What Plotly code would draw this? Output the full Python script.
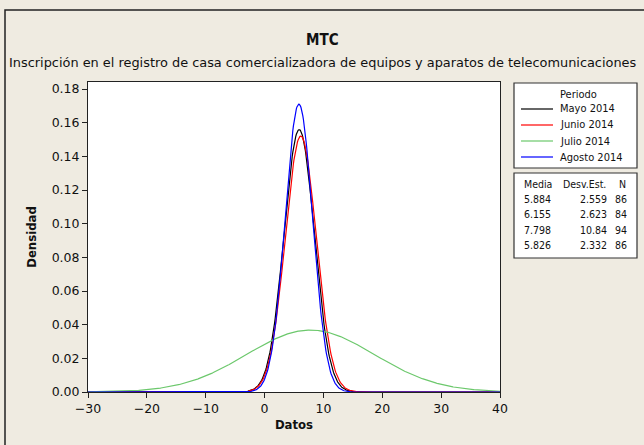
import numpy as np
import plotly.graph_objects as go

# ---- data (from the reference's table) ----
periodos = ["Mayo 2014", "Junio 2014", "Julio 2014", "Agosto 2014"]
medias = [5.884, 6.155, 7.798, 5.826]
desv = [2.559, 2.623, 10.84, 2.332]
ns = [86, 84, 94, 86]
colores = ["#000000", "#FF0000", "#6CC86C", "#0000FF"]

x_ticks = [-30, -20, -10, 0, 10, 20, 30, 40]
y_ticks = [0.00, 0.02, 0.04, 0.06, 0.08, 0.10, 0.12, 0.14, 0.16, 0.18]

FONT = "DejaVu Sans, sans-serif"
FONTC = "DejaVu Sans Condensed, DejaVu Sans, sans-serif"
BG = "#EFEBE1"

W, H = 644, 445
L, R, T, B = 88, 500, 82, 392  # plot area in pixels


def px(x):
    return (x - L) / (R - L)


def py(y):
    return (B - y) / (B - T)


fig = go.Figure()
xs = np.linspace(-30, 40, 701)
for name, m, s, c in zip(periodos, medias, desv, colores):
    dens = np.exp(-0.5 * ((xs - m) / s) ** 2) / (s * np.sqrt(2 * np.pi))
    fig.add_trace(go.Scatter(x=xs, y=dens, mode="lines", name=name,
                             line=dict(color=c, width=1.2), showlegend=False))

shapes = []
annots = []
# outer border
shapes.append(dict(type="rect", xref="paper", yref="paper",
                   x0=px(5), x1=px(660), y0=py(10), y1=py(460),
                   line=dict(color="#222222", width=1.5)))
# legend box
shapes.append(dict(type="rect", xref="paper", yref="paper",
                   x0=px(514), x1=px(637), y0=py(83), y1=py(168),
                   line=dict(color="#333333", width=1.2), fillcolor="white", layer="below"))
annots.append(dict(text="Periodo", x=px(578), y=py(94), xref="paper", yref="paper",
                   showarrow=False, xanchor="center", yanchor="middle",
                   font=dict(size=11, color="#111111", family=FONTC)))
ys_leg = [109, 125, 141, 157]
for name, c, yy in zip(periodos, colores, ys_leg):
    shapes.append(dict(type="line", xref="paper", yref="paper",
                       x0=px(521), x1=px(553), y0=py(yy), y1=py(yy),
                       line=dict(color=c, width=1.2)))
    annots.append(dict(text=name, x=px(558), y=py(yy), xref="paper", yref="paper",
                       showarrow=False, xanchor="left", yanchor="middle",
                       font=dict(size=11, color="#111111", family=FONTC)))
# stats table
shapes.append(dict(type="rect", xref="paper", yref="paper",
                   x0=px(514), x1=px(637), y0=py(173), y1=py(258),
                   line=dict(color="#333333", width=1.2), fillcolor="white", layer="below"))
hdr_y = 184
annots.append(dict(text="Media", x=px(538), y=py(hdr_y), xref="paper", yref="paper",
                   showarrow=False, xanchor="center", yanchor="middle",
                   font=dict(size=10.5, color="#111111", family=FONTC)))
annots.append(dict(text="Desv.Est.", x=px(608), y=py(hdr_y), xref="paper", yref="paper",
                   showarrow=False, xanchor="right", yanchor="middle",
                   font=dict(size=10.5, color="#111111", family=FONTC)))
annots.append(dict(text="N", x=px(628), y=py(hdr_y), xref="paper", yref="paper",
                   showarrow=False, xanchor="right", yanchor="middle",
                   font=dict(size=10.5, color="#111111", family=FONTC)))
rows_y = [199, 214, 230, 245]
for m, s, n, yy in zip(medias, desv, ns, rows_y):
    for txt, xx in ((f"{m:.3f}", 553), (f"{s:.4g}", 609), (str(n), 629)):
        annots.append(dict(text=txt, x=px(xx), y=py(yy), xref="paper", yref="paper",
                           showarrow=False, xanchor="right", yanchor="middle",
                           font=dict(size=10.5, color="#111111", family=FONTC)))

# titles
annots.append(dict(text="<b>MTC</b>", x=px(322), y=py(40), xref="paper", yref="paper",
                   showarrow=False, xanchor="center", yanchor="middle",
                   font=dict(size=15, color="#111111", family=FONTC)))
annots.append(dict(text="Inscripción en el registro de casa comercializadora de equipos y aparatos de telecomunicaciones",
                   x=px(323), y=py(62), xref="paper", yref="paper",
                   showarrow=False, xanchor="center", yanchor="middle",
                   font=dict(size=12.9, color="#111111", family=FONT)))

fig.update_layout(
    width=W, height=H,
    margin=dict(l=L, r=W - R, t=T, b=H - B, pad=0),
    paper_bgcolor=BG, plot_bgcolor="white",
    font=dict(family=FONT, size=12, color="#111111"),
    shapes=shapes, annotations=annots,
    showlegend=False,
)
fig.update_xaxes(range=[-30, 40], tickvals=x_ticks, ticks="outside", ticklen=5,
                 tickcolor="#222222", showline=True, linecolor="#222222", linewidth=1,
                 mirror=True, showgrid=False, zeroline=False,
                 title=dict(text="<b>Datos</b>", font=dict(size=13, family=FONTC), standoff=4),
                 tickfont=dict(size=12.5))
fig.update_yaxes(range=[0, 0.1842], tickvals=y_ticks, tickformat=".2f", ticks="outside",
                 ticklen=5, tickcolor="#222222", showline=True, linecolor="#222222",
                 linewidth=1, mirror=True, showgrid=False, zeroline=False,
                 title=dict(text="<b>Densidad</b>", font=dict(size=13, family=FONTC), standoff=12),
                 tickfont=dict(size=12.5))

fig.write_html("out.html", config={"displayModeBar": False},
               post_script="document.body.style.margin='0';document.body.style.padding='0';")
